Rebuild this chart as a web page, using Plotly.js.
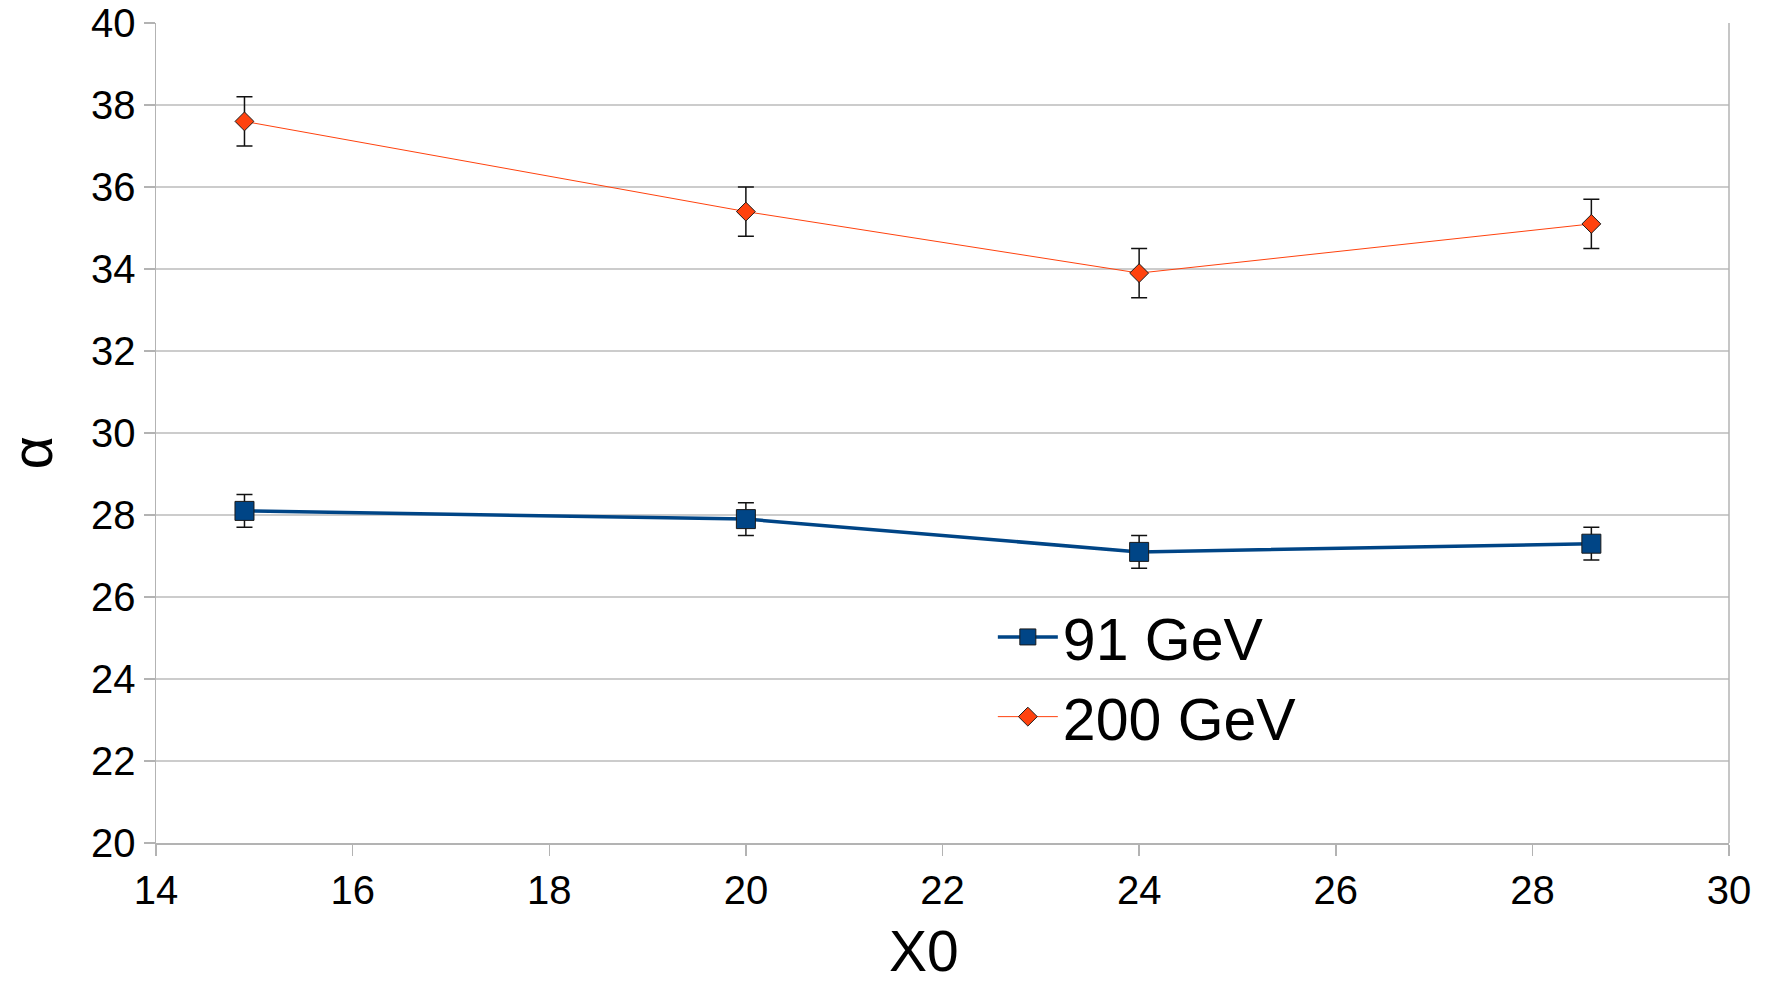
<!DOCTYPE html>
<html>
<head>
<meta charset="utf-8">
<script src="https://cdn.plot.ly/plotly-3.0.1.min.js"></script>
<style>html,body{margin:0;padding:0;background:#fff;}#chart{width:1769px;height:986px;}</style>
</head>
<body>
<div id="chart"></div>
<script>
const x0Values = [14.9, 20, 24, 28.6];
const alpha91 = [28.1, 27.9, 27.1, 27.3];
const err91 = [0.4, 0.4, 0.4, 0.4];
const alpha200 = [37.6, 35.4, 33.9, 35.1];
const err200 = [0.6, 0.6, 0.6, 0.6];
const seriesNames = ["91 GeV", "200 GeV"];
const xTicks = [14, 16, 18, 20, 22, 24, 26, 28, 30];
const yTicks = [20, 22, 24, 26, 28, 30, 32, 34, 36, 38, 40];
const xTitle = "X0";
const yTitle = "α";

const FONT = "Liberation Sans, Arial, sans-serif";

const traces = [
  {
    x: x0Values, y: alpha91, name: seriesNames[0], type: "scatter", mode: "lines+markers",
    line: {color: "#004586", width: 3.5},
    marker: {symbol: "square", size: 19, color: "#004586", line: {color: "#1a1a1a", width: 1}},
    error_y: {type: "data", array: err91, visible: true, color: "#111111", thickness: 1.5, width: 8}
  },
  {
    x: x0Values, y: alpha200, name: seriesNames[1], type: "scatter", mode: "lines+markers",
    line: {color: "#ff420e", width: 1},
    marker: {symbol: "diamond", size: 14.5, color: "#ff420e", line: {color: "#1a1a1a", width: 1}},
    error_y: {type: "data", array: err200, visible: true, color: "#111111", thickness: 1.5, width: 8}
  }
];

const layout = {
  width: 1769, height: 986,
  paper_bgcolor: "#ffffff", plot_bgcolor: "#ffffff",
  margin: {l: 156, r: 40, t: 23, b: 143, pad: 0},
  font: {family: FONT, color: "#000000"},
  showlegend: true,
  legend: {
    x: 0.532, y: 0.306, xanchor: "left", yanchor: "top",
    font: {family: FONT, size: 59, color: "#000000"},
    bgcolor: "rgba(255,255,255,0)", borderwidth: 0,
    tracegroupgap: 0, itemwidth: 60
  },
  xaxis: {
    range: [14, 30], tickmode: "array", tickvals: xTicks, ticktext: xTicks.map(String),
    showgrid: false, zeroline: false,
    showline: true, linecolor: "#b3b3b3", linewidth: 1.5, mirror: false,
    ticks: "outside", ticklen: 11, tickwidth: 1.5, tickcolor: "#b3b3b3",
    tickfont: {family: FONT, size: 40, color: "#000000"}
  },
  yaxis: {
    range: [20, 40], tickmode: "array", tickvals: yTicks, ticktext: yTicks.map(String),
    showgrid: true, gridcolor: "#cccccc", gridwidth: 1.5, zeroline: false,
    showline: true, linecolor: "#b3b3b3", linewidth: 1.5, mirror: false,
    ticks: "outside", ticklen: 11, tickwidth: 1.5, tickcolor: "#b3b3b3",
    tickfont: {family: FONT, size: 40, color: "#000000"}
  },
  annotations: [
    {text: xTitle, xref: "paper", yref: "paper", x: 0.488, y: -0.1725, xanchor: "center", yanchor: "bottom",
     showarrow: false, borderpad: 0, font: {family: FONT, size: 57, color: "#000000"}},
    {text: yTitle, xref: "paper", yref: "paper", x: -0.079, y: 0.476, xanchor: "center", yanchor: "middle",
     textangle: -90, showarrow: false, font: {family: FONT, size: 58, color: "#000000"}}
  ],
  shapes: [
    {type: "line", xref: "paper", yref: "paper", x0: 1, x1: 1, y0: 0, y1: 1, line: {color: "#b3b3b3", width: 1.5}}
  ]
};

Plotly.newPlot("chart", traces, layout, {staticPlot: true, displayModeBar: false});
</script>
</body>
</html>
